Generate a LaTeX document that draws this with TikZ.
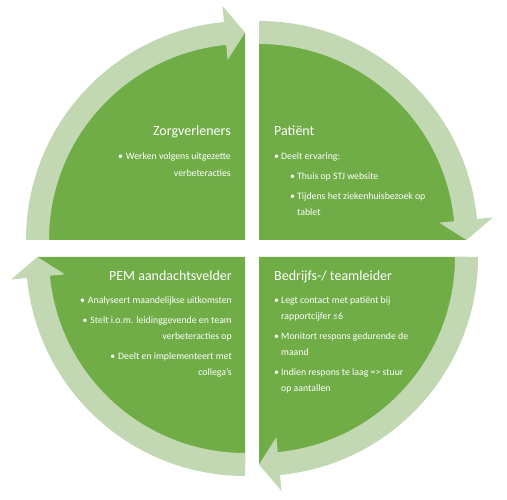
\documentclass[tikz,border=0pt]{standalone}
\usepackage{fontspec}
\setmainfont{Carlito}
\definecolor{seg}{HTML}{70AD47}
\definecolor{band}{RGB}{193,216,178}
\tikzset{
  pics/quad/.style={code={
    \fill[seg] (0,0) -- (#1:207) arc[start angle=#1, delta angle=-90, radius=207] -- cycle;
    \fill[band] (#1:196) -- (#1:219) arc[start angle=#1, delta angle=-84.5, radius=219]
      -- ({#1-84.5}:235) -- ({#1-90}:207.5) -- ({#1-84.5}:181) -- ({#1-84.5}:196)
      arc[start angle={#1-84.5}, delta angle=84.5, radius=196] -- cycle;
  }},
  ttl/.style={text=white, inner sep=0pt, font=\fontsize{14}{16}\selectfont},
  txt/.style={text=white, inner sep=0pt, font=\fontsize{9.8}{11}\selectfont},
}
\begin{document}
\begin{tikzpicture}[x=1pt,y=1pt]
\path[use as bounding box, fill=white] (0,0) rectangle (507,500);
\pic (qtl) at (245,260) {quad=180};
\pic (qtr) at (259,260) {quad=90};
\pic (qbr) at (259,243) {quad=0};
\pic (qbl) at (245,243) {quad=270};
% top left
\node[ttl, anchor=base east] (tlT) at (231,364.5) {Zorgverleners};
\node[txt, anchor=base east] (tl1) at (231,340) {•\hspace{3pt}Werken volgens uitgezette};
\node[txt, anchor=base east] (tl2) at (231,323) {verbeteracties};
% top right
\node[ttl, anchor=base west] (trT) at (274,364.5) {Patiënt};
\node[txt, anchor=base west] (trb1) at (274,340) {•};
\node[txt, anchor=base west] (tr1) at (281,340) {Deelt ervaring:};
\node[txt, anchor=base west] (trb2) at (290,320) {•};
\node[txt, anchor=base west] (tr2) at (297,320) {Thuis op STJ website};
\node[txt, anchor=base west] (trb3) at (290,300) {•};
\node[txt, anchor=base west] (tr3) at (297,300) {Tijdens het ziekenhuisbezoek op};
\node[txt, anchor=base west] (tr4) at (297,284) {tablet};
% bottom left
\node[ttl, anchor=base east] (blT) at (232,219.5) {PEM aandachtsvelder};
\node[txt, anchor=base east] (bl1) at (232,196) {•\hspace{3pt}Analyseert maandelijkse uitkomsten};
\node[txt, anchor=base east] (bl2) at (232,176) {•\hspace{3pt}Stelt i.o.m. leidinggevende en team};
\node[txt, anchor=base east] (bl3) at (232,160) {verbeteracties op};
\node[txt, anchor=base east] (bl4) at (232,140) {•\hspace{3pt}Deelt en implementeert met};
\node[txt, anchor=base east] (bl5) at (232,124) {collega’s};
% bottom right
\node[ttl, anchor=base west] (brT) at (274,219.5) {Bedrijfs-/ teamleider};
\node[txt, anchor=base west] (brb1) at (274,196) {•};
\node[txt, anchor=base west] (br1) at (281,196) {Legt contact met patiënt bij};
\node[txt, anchor=base west] (br2) at (281,180) {rapportcijfer ≤6};
\node[txt, anchor=base west] (brb2) at (274,160) {•};
\node[txt, anchor=base west] (br3) at (281,160) {Monitort respons gedurende de};
\node[txt, anchor=base west] (br4) at (281,144) {maand};
\node[txt, anchor=base west] (brb3) at (274,124) {•};
\node[txt, anchor=base west] (br5) at (281,124) {Indien respons te laag => stuur};
\node[txt, anchor=base west] (br6) at (281,108) {op aantallen};
\end{tikzpicture}
\end{document}
